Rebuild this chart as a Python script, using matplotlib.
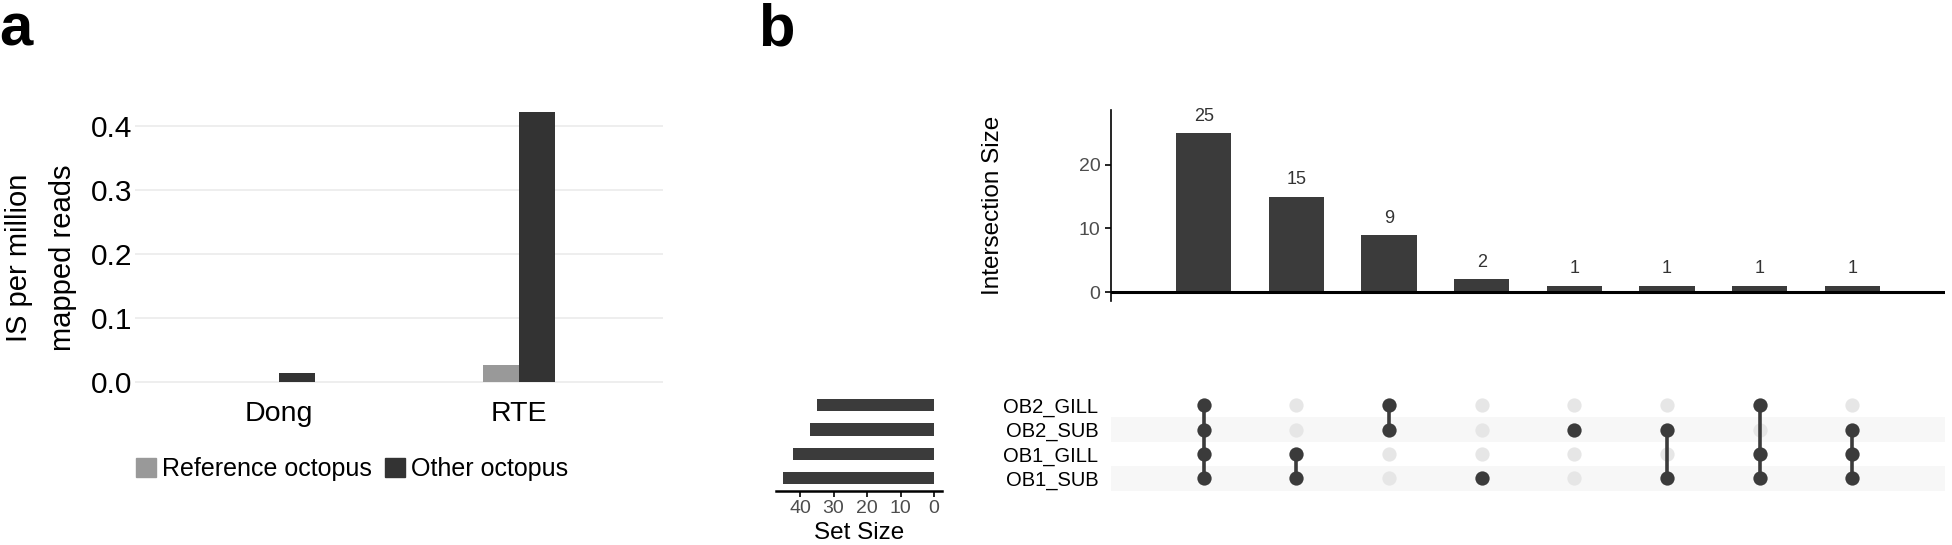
import matplotlib
matplotlib.use("Agg")
import matplotlib.pyplot as plt
from matplotlib.patches import Patch

plt.rcParams['font.family'] = ['Liberation Sans', 'DejaVu Sans']

# ---- panel a data ----
elements = ["Dong", "RTE"]
ref_octopus = [0.0, 0.026]
other_octopus = [0.0136, 0.422]

# ---- panel b data (UpSet) ----
sets = ["OB2_GILL", "OB2_SUB", "OB1_GILL", "OB1_SUB"]   # top to bottom
set_sizes = [35, 37, 42, 45]
inter_sizes = [25, 15, 9, 2, 1, 1, 1, 1]
inter_members = [
    ["OB2_GILL", "OB2_SUB", "OB1_GILL", "OB1_SUB"],
    ["OB1_GILL", "OB1_SUB"],
    ["OB2_GILL", "OB2_SUB"],
    ["OB1_SUB"],
    ["OB2_SUB"],
    ["OB2_SUB", "OB1_SUB"],
    ["OB2_GILL", "OB1_GILL", "OB1_SUB"],
    ["OB2_SUB", "OB1_GILL", "OB1_SUB"],
]

W, H = 1952, 545
fig = plt.figure(figsize=(W / 100, H / 100), dpi=100)


def px_axes(l, t, r, b):
    return fig.add_axes([l / W, (H - b) / H, (r - l) / W, (b - t) / H])


# ================= panel a =================
ax = px_axes(135, 99, 663, 395)
xs = range(1, len(elements) + 1)
bw = 0.15
ax.bar([x - bw / 2 for x in xs], ref_octopus, bw, color="#999999", label="Reference octopus")
ax.bar([x + bw / 2 for x in xs], other_octopus, bw, color="#333333", label="Other octopus")
ax.set_xlim(0.4, 2.6)
ax.set_ylim(-0.021, 0.443)
ax.set_yticks([0, 0.1, 0.2, 0.3, 0.4])
ax.set_yticklabels(["0.0", "0.1", "0.2", "0.3", "0.4"])
ax.set_xticks(list(xs))
ax.set_xticklabels(elements)
ax.tick_params(axis="both", length=0)
ax.tick_params(axis="y", pad=2, labelsize=21.5)
ax.tick_params(axis="x", pad=4, labelsize=20.5)
ax.grid(axis="y", color="#ebebeb", lw=1.2)
ax.set_axisbelow(True)
for s in ax.spines.values():
    s.set_visible(False)

fig.text(41 / W, (H - 258) / H, "IS per million\nmapped reads", rotation=90,
         ha="center", va="center", fontsize=21, linespacing=1.7)

handles = [Patch(color="#999999"), Patch(color="#333333")]
fig.legend(handles, ["Reference octopus", "Other octopus"], loc="center",
           bbox_to_anchor=(352 / W, (H - 469) / H), ncol=2, frameon=False,
           fontsize=18, handlelength=0.8, handleheight=0.8, handletextpad=0.25,
           columnspacing=0.5)

fig.text(-1 / W, (H - 45) / H, "a", fontsize=43, fontweight="bold", va="baseline")
fig.text(758 / W, (H - 45) / H, "b", fontsize=43, fontweight="bold", va="baseline")

# ================= panel b =================
dark = "#3b3b3b"
n = len(inter_sizes)

# intersection size bars
axb = px_axes(1111, 109.7, 1945, 300.9)
axb.bar(range(n), inter_sizes, 0.6, color=dark)
axb.axhline(0, color="black", lw=2.2)
for i, v in enumerate(inter_sizes):
    axb.annotate(str(v), (i, v), xytext=(0, 6), textcoords="offset points",
                 ha="center", va="bottom", fontsize=13, color="#333333")
axb.set_xlim(-1, n)
axb.set_ylim(-1.4, 28.7)
axb.set_yticks([0, 10, 20])
axb.set_xticks([])
axb.tick_params(axis="y", length=4.5, width=1.2, pad=3, labelsize=14, labelcolor="#4d4d4d")
for k in ["top", "right", "bottom"]:
    axb.spines[k].set_visible(False)
axb.spines["left"].set_linewidth(1.2)
fig.text(993 / W, (H - 205) / H, "Intersection Size", rotation=90,
         ha="center", va="center", fontsize=17.5)

# matrix
axm = px_axes(1111, 393, 1945, 490.5)
nr = len(sets)
axm.set_xlim(-1, n)
axm.set_ylim(nr - 0.5, -0.5)
for r in range(nr):
    if r % 2 == 1:
        axm.axhspan(r - 0.5, r + 0.5, color="#f7f7f7", lw=0, zorder=0)
for i in range(n):
    axm.scatter([i] * nr, range(nr), s=105, color="#e6e6e6", lw=0, zorder=1)
for i, mem in enumerate(inter_members):
    rows = [sets.index(m) for m in mem]
    if len(rows) > 1:
        axm.plot([i, i], [min(rows), max(rows)], color=dark, lw=2.6, zorder=2)
    axm.scatter([i] * len(rows), rows, s=105, color=dark, lw=0, zorder=3)
axm.set_xticks([])
axm.set_yticks(range(nr))
axm.set_yticklabels(sets)
axm.tick_params(axis="y", length=0, pad=9, labelsize=14.5)
for s in axm.spines.values():
    s.set_visible(False)

# set size bars
axs = px_axes(776, 393, 942, 490.5)
axs.barh(range(nr), set_sizes, 0.5, color=dark)
axs.set_ylim(nr - 0.5, -0.5)
axs.set_xlim(47.2, -2.4)
axs.set_xticks([0, 10, 20, 30, 40])
axs.set_yticks([])
axs.tick_params(axis="x", length=4.5, width=1.2, pad=2, labelsize=14, labelcolor="#4d4d4d")
for k in ["top", "right", "left"]:
    axs.spines[k].set_visible(False)
axs.spines["bottom"].set_linewidth(1.8)
fig.text(859 / W, (H - 533) / H, "Set Size", ha="center", va="center", fontsize=17.5)

fig.savefig("out.png", dpi=100)
